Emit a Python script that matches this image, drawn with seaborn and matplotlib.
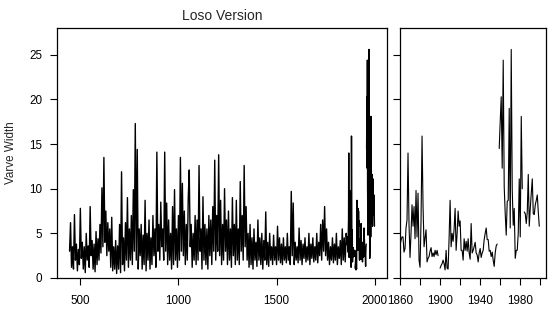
import numpy as np
import pandas as pd
import seaborn as sns
import matplotlib
matplotlib.use("Agg")
import matplotlib.pyplot as plt

# ---- data ----
# Early record (445-1855), read as an envelope at 5-year steps
early_years = list(range(445, 1856, 5))
early_width = [
    3.0, 6.2, 1.2, 3.5, 1.0, 7.1, 2.0, 3.8, 0.8, 3.2,
    1.5, 7.8, 2.2, 4.0, 1.0, 3.5, 0.6, 5.0, 2.0, 3.6,
    1.2, 8.0, 2.5, 4.2, 1.0, 3.8, 0.7, 5.2, 1.5, 4.4,
    2.0, 6.0, 2.8, 10.1, 3.5, 13.5, 4.0, 7.5, 2.5, 6.2,
    3.0, 5.5, 1.2, 6.8, 0.8, 3.5, 1.0, 4.2, 0.5, 3.6,
    1.0, 6.0, 0.6, 11.9, 1.5, 4.5, 0.8, 6.2, 2.0, 9.0,
    1.2, 5.5, 2.0, 7.0, 1.5, 9.9, 3.0, 17.3, 2.0, 14.4,
    1.0, 5.5, 2.5, 6.0, 1.0, 4.8, 1.5, 8.7, 0.8, 5.0,
    2.0, 6.5, 1.0, 4.5, 1.5, 7.0, 2.5, 5.5, 1.2, 14.1,
    3.0, 6.0, 2.0, 8.5, 3.5, 5.5, 2.0, 14.1, 3.0, 8.4,
    1.5, 6.5, 2.0, 5.0, 1.0, 8.0, 1.5, 9.9, 2.0, 5.5,
    1.2, 7.0, 2.0, 13.5, 3.0, 10.6, 2.5, 7.5, 1.5, 6.0,
    2.0, 9.0, 12.1, 3.5, 6.0, 1.2, 5.0, 2.0, 7.0, 1.5,
    6.5, 2.0, 12.6, 3.0, 5.5, 1.0, 9.1, 2.0, 6.0, 1.5,
    5.5, 1.0, 7.0, 2.5, 6.5, 1.5, 8.0, 3.0, 13.2, 2.0,
    7.0, 3.0, 13.8, 2.5, 8.7, 1.5, 6.0, 2.0, 10.0, 3.0,
    6.5, 1.5, 7.5, 2.0, 5.5, 1.2, 9.0, 2.5, 6.0, 1.5,
    8.7, 2.0, 5.5, 1.5, 10.8, 3.0, 7.0, 2.0, 12.6, 3.5,
    8.0, 2.0, 5.0, 1.2, 6.0, 1.5, 4.5, 1.0, 5.5, 2.0,
    4.0, 1.3, 6.5, 2.0, 4.5, 1.5, 5.0, 1.0, 4.2, 2.0,
    7.4, 1.5, 4.0, 1.3, 5.0, 2.0, 3.5, 1.5, 4.8, 2.0,
    3.5, 1.5, 5.8, 2.0, 4.5, 1.7, 3.8, 1.5, 4.5, 2.0,
    3.5, 1.7, 5.0, 2.0, 3.5, 1.5, 9.7, 2.5, 8.4, 1.5,
    4.0, 2.0, 3.5, 1.7, 5.6, 2.0, 4.2, 1.5, 3.8, 2.2,
    4.5, 1.8, 3.5, 2.0, 5.0, 1.5, 3.8, 2.2, 4.5, 1.8,
    3.5, 2.0, 5.0, 1.7, 4.0, 2.5, 6.0, 2.0, 6.5, 3.0,
    8.0, 2.5, 5.5, 2.0, 4.0, 1.5, 3.5, 2.0, 4.5, 1.7,
    3.8, 2.0, 5.0, 1.5, 3.5, 2.2, 4.2, 1.5, 5.5, 2.0,
    4.5, 1.8, 5.0,
]

# Recent record (1860-1999), yearly, NaN = missing
recent_years = list(range(1860, 2000))
recent_width = [
    3.7, 4.2, 4.6, 4.6, 2.9, 3.3, 5.6, 6.5, 14.0, 6.0,
    2.3, 5.0, 8.2, 5.8, 8.0, 4.4, 9.8, 4.6, 9.5, 2.0,
    1.2, 6.5, 15.9, 8.0, 3.5, 4.5, 5.4, 1.8, 2.2, 2.4,
    3.0, 3.4, 2.4, 2.8, 2.4, 3.1, 2.6, 3.1, 2.5, np.nan,
    1.1, 1.4, 1.6, 2.0, 1.6, 0.9, 3.1, 1.1, 1.0, 4.5,
    8.7, 3.5, 5.0, 4.1, 5.5, 7.8, 3.1, 5.0, 7.5, 5.8,
    6.4, 3.1, 3.1, 2.0, 4.4, 3.1, 4.1, 3.0, 4.4, 2.8,
    2.1, 6.1, 2.8, 3.1, 3.5, 4.0, 2.8, 2.6, 1.8, 2.8,
    3.3, 2.3, 2.8, 3.1, 4.3, 5.0, 5.6, 4.3, 4.3, 3.0,
    3.1, 2.4, 2.9, 2.0, 1.3, 2.8, 3.6, 3.8, np.nan, 14.5,
    17.5, 20.3, 12.3, 24.4, 10.2, 7.2, 4.8, 8.6, 8.7, 19.0,
    5.6, 25.6, 9.9, 5.9, 7.8, 2.2, 3.1, 3.1, 5.0, 11.1,
    4.6, 18.1, 10.0, np.nan, 7.4, 7.2, 6.1, 7.4, 11.6, 5.8,
    7.8, 9.5, 11.1, 7.2, 7.1, 8.2, 8.7, 9.3, 7.4, 5.8,
]

y_ticks = [0, 5, 10, 15, 20, 25]
left_x_ticks = [500, 1000, 1500, 2000]
right_x_ticks = list(range(1860, 2001, 20))
right_x_labels = ["1860", "", "1900", "", "1940", "", "1980", ""]

# ---- build frames with segment ids so missing years leave gaps ----
def segmented(years, vals):
    df = pd.DataFrame({"year": years, "width": vals})
    seg = df["width"].isna().cumsum()
    df["seg"] = seg
    return df.dropna()

full = segmented(early_years + recent_years, early_width + recent_width)
recent = segmented(recent_years, recent_width)

sns.set_style("white")
plt.rcParams["font.family"] = ["Liberation Sans", "DejaVu Sans"]

fig = plt.figure(figsize=(5.6, 3.2), dpi=100)
axL = fig.add_axes([57 / 560, 42 / 320, 330 / 560, 250 / 320])
axR = fig.add_axes([400 / 560, 42 / 320, 146 / 560, 250 / 320])

sns.lineplot(data=full, x="year", y="width", units="seg", estimator=None,
             color="black", linewidth=1.0, ax=axL, legend=False)
sns.lineplot(data=recent, x="year", y="width", units="seg", estimator=None,
             color="black", linewidth=0.8, ax=axR, legend=False)

for ax in (axL, axR):
    ax.set_ylim(0, 28)
    ax.set_yticks(y_ticks)
    ax.set_xlabel("")
    ax.set_ylabel("")
    for s in ax.spines.values():
        s.set_visible(True)
        s.set_color("black")
        s.set_linewidth(0.9)
    ax.tick_params(axis="both", direction="out", length=5, width=0.8,
                   color="black", labelsize=8.4, labelcolor="black",
                   bottom=True, left=True)
    ax.tick_params(axis="x", pad=7)
    ax.tick_params(axis="y", pad=5.5)
    ax.set_facecolor("white")

axL.set_xlim(381, 2063)
axL.set_xticks(left_x_ticks)
axL.set_xticklabels([str(v) for v in left_x_ticks])
axL.set_yticklabels([str(v) for v in y_ticks])
axL.set_ylabel("Varve Width", fontsize=8.4, labelpad=9)
axL.set_title("Loso Version", fontsize=10, pad=6)

axR.set_xlim(1860, 2005.7)
axR.set_xticks(right_x_ticks)
axR.set_xticklabels(right_x_labels)
axR.set_yticklabels([])

fig.savefig("out.png", dpi=100, facecolor="white")
